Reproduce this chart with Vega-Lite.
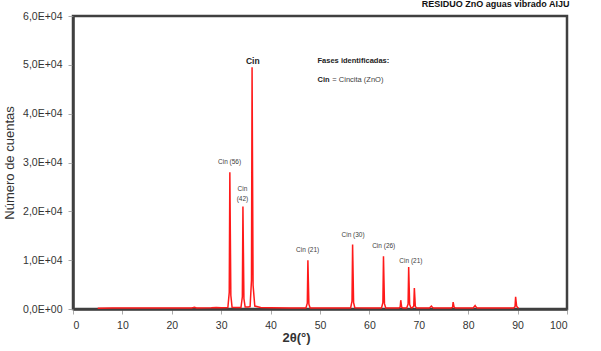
{
  "$schema": "https://vega.github.io/schema/vega-lite/v6.json",
  "width": 494,
  "height": 293,
  "autosize": "none",
  "padding": {"left": 73, "top": 16, "right": 34, "bottom": 42},
  "background": "white",
  "title": {"text": "RESIDUO ZnO aguas vibrado AIJU", "anchor": "end", "fontSize": 9, "fontWeight": "bold", "font": "Liberation Sans", "color": "#111111", "offset": 2, "dx": 2},
  "config": {
    "view": {"stroke": "#404040", "strokeWidth": 2.5},
    "axis": {"grid": false, "domainColor": "#404040", "domainWidth": 2.5, "tickColor": "#aaaaaa", "tickWidth": 1, "tickSize": 5, "labelPadding": 6, "labelFont": "Liberation Sans", "labelFontSize": 10.5, "labelColor": "#333333", "titleFont": "Liberation Sans", "titleColor": "#333333", "titleFontSize": 13, "titleFontWeight": "normal"}
  },
  "datasets": {
    "spectrum": [
      {"x": 5, "y": 150}, {"x": 8, "y": 180}, {"x": 12, "y": 200}, {"x": 16, "y": 190}, {"x": 20, "y": 210}, {"x": 24, "y": 220}, {"x": 24.6, "y": 350}, {"x": 25, "y": 230}, {"x": 28, "y": 240}, {"x": 29, "y": 300}, {"x": 30, "y": 260},
      {"x": 31.35, "y": 300}, {"x": 31.63, "y": 3400}, {"x": 31.75, "y": 28000}, {"x": 31.85, "y": 15400}, {"x": 31.95, "y": 2800}, {"x": 32.2, "y": 350},
      {"x": 33, "y": 300}, {"x": 34.0, "y": 300}, {"x": 34.28, "y": 2500}, {"x": 34.4, "y": 21000}, {"x": 34.5, "y": 11500}, {"x": 34.6, "y": 2100}, {"x": 34.85, "y": 400},
      {"x": 35.5, "y": 400}, {"x": 35.85, "y": 500}, {"x": 36.13, "y": 5900}, {"x": 36.25, "y": 49500}, {"x": 36.35, "y": 27200}, {"x": 36.45, "y": 4900}, {"x": 36.8, "y": 600},
      {"x": 38, "y": 300}, {"x": 40, "y": 250}, {"x": 44, "y": 220},
      {"x": 47.15, "y": 220}, {"x": 47.43, "y": 1200}, {"x": 47.55, "y": 10000}, {"x": 47.65, "y": 5500}, {"x": 47.75, "y": 1000}, {"x": 48.0, "y": 220},
      {"x": 52, "y": 200}, {"x": 56.2, "y": 200}, {"x": 56.48, "y": 1600}, {"x": 56.6, "y": 13200}, {"x": 56.7, "y": 7300}, {"x": 56.8, "y": 1300}, {"x": 57.05, "y": 250},
      {"x": 60, "y": 200}, {"x": 62.45, "y": 200}, {"x": 62.73, "y": 1300}, {"x": 62.85, "y": 10800}, {"x": 62.95, "y": 5900}, {"x": 63.05, "y": 1100}, {"x": 63.3, "y": 220},
      {"x": 65.95, "y": 200}, {"x": 66.23, "y": 400}, {"x": 66.35, "y": 1800}, {"x": 66.45, "y": 1000}, {"x": 66.55, "y": 350}, {"x": 66.8, "y": 200},
      {"x": 67.55, "y": 200}, {"x": 67.83, "y": 1000}, {"x": 67.95, "y": 8600}, {"x": 68.05, "y": 4700}, {"x": 68.15, "y": 900}, {"x": 68.4, "y": 250},
      {"x": 68.7, "y": 250}, {"x": 68.98, "y": 600}, {"x": 69.1, "y": 4300}, {"x": 69.2, "y": 2400}, {"x": 69.3, "y": 500}, {"x": 69.55, "y": 200},
      {"x": 72.15, "y": 200}, {"x": 72.55, "y": 600}, {"x": 72.7, "y": 400}, {"x": 72.95, "y": 200},
      {"x": 76.55, "y": 200}, {"x": 76.83, "y": 350}, {"x": 76.95, "y": 1400}, {"x": 77.05, "y": 900}, {"x": 77.15, "y": 400}, {"x": 77.4, "y": 200},
      {"x": 81.0, "y": 200}, {"x": 81.4, "y": 700}, {"x": 81.55, "y": 450}, {"x": 81.8, "y": 200},
      {"x": 89.2, "y": 220}, {"x": 89.48, "y": 500}, {"x": 89.6, "y": 2500}, {"x": 89.7, "y": 1500}, {"x": 89.8, "y": 600}, {"x": 90.0, "y": 300}, {"x": 90.2, "y": 200}
    ],
    "peakLabels": [
      {"x": 31.7, "y": 30100, "label": "Cin (56)"},
      {"x": 34.3, "y": 24600, "label": "Cin"},
      {"x": 34.3, "y": 22550, "label": "(42)"},
      {"x": 47.5, "y": 12000, "label": "Cin (21)"},
      {"x": 56.7, "y": 15100, "label": "Cin (30)"},
      {"x": 62.9, "y": 12900, "label": "Cin (26)"},
      {"x": 68.4, "y": 9800, "label": "Cin (21)"}
    ],
    "legendText": [
      {"x": 49.5, "y": 50850, "label": "Fases identificadas:", "kind": "bold"},
      {"x": 49.5, "y": 46900, "label": "Cin", "kind": "bold"},
      {"x": 52.5, "y": 46900, "label": "= Cincita (ZnO)", "kind": "normal"}
    ]
  },
  "layer": [
    {
      "data": {"name": "spectrum"},
      "mark": {"type": "line", "color": "#ff1a1a", "strokeWidth": 1.5, "interpolate": "linear"},
      "encoding": {
        "x": {"field": "x", "type": "quantitative", "scale": {"domain": [0, 100], "nice": false}, "axis": {"values": [0, 10, 20, 30, 40, 50, 60, 70, 80, 90, 100], "title": "2θ(°)", "titleX": 223, "titleY": 28, "titleBaseline": "middle", "titleAlign": "center", "titleFontWeight": "bold"}},
        "y": {"field": "y", "type": "quantitative", "scale": {"domain": [0, 60000], "nice": false}, "axis": {"values": [0, 10000, 20000, 30000, 40000, 50000, 60000], "title": "Número de cuentas", "titlePadding": 6, "labelExpr": "replace(replace(format(datum.value, '.1e'), '.', ','), 'e+', 'E+0')"}}
      }
    },
    {
      "data": {"name": "peakLabels"},
      "mark": {"type": "text", "font": "Liberation Sans", "fontSize": 6.5, "color": "#404040", "align": "center", "baseline": "middle"},
      "encoding": {
        "x": {"field": "x", "type": "quantitative"},
        "y": {"field": "y", "type": "quantitative"},
        "text": {"field": "label"}
      }
    },
    {
      "data": {"values": [{"x": 36.4, "y": 50800, "label": "Cin"}]},
      "mark": {"type": "text", "font": "Liberation Sans", "fontSize": 8.5, "fontWeight": "bold", "color": "#222222", "align": "center", "baseline": "middle"},
      "encoding": {
        "x": {"field": "x", "type": "quantitative"},
        "y": {"field": "y", "type": "quantitative"},
        "text": {"field": "label"}
      }
    },
    {
      "data": {"name": "legendText"},
      "transform": [{"filter": "datum.kind == 'bold'"}],
      "mark": {"type": "text", "font": "Liberation Sans", "fontSize": 7.5, "fontWeight": "bold", "color": "#222222", "align": "left", "baseline": "middle"},
      "encoding": {
        "x": {"field": "x", "type": "quantitative"},
        "y": {"field": "y", "type": "quantitative"},
        "text": {"field": "label"}
      }
    },
    {
      "data": {"name": "legendText"},
      "transform": [{"filter": "datum.kind == 'normal'"}],
      "mark": {"type": "text", "font": "Liberation Sans", "fontSize": 7.5, "color": "#404040", "align": "left", "baseline": "middle"},
      "encoding": {
        "x": {"field": "x", "type": "quantitative"},
        "y": {"field": "y", "type": "quantitative"},
        "text": {"field": "label"}
      }
    }
  ]
}
